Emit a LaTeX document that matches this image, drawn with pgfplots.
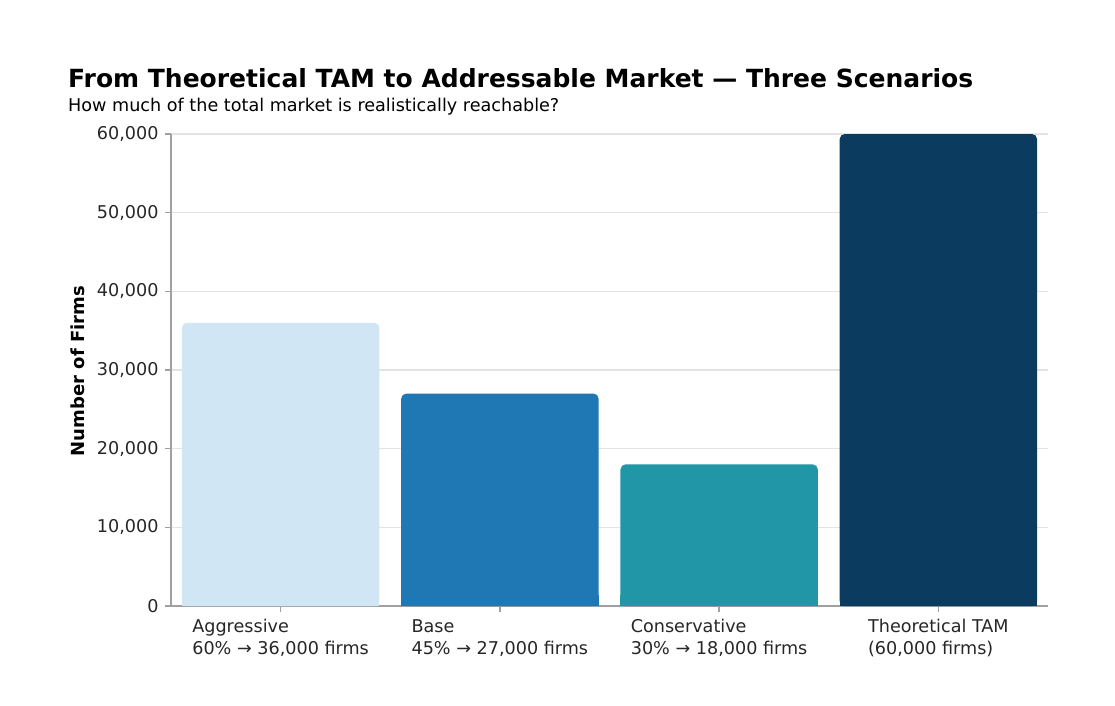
\documentclass[border=0pt]{standalone}
\usepackage{pgfplots}
\usepackage{pgfplotstable}
\pgfplotsset{compat=1.18}
\usepackage{fontspec}
\setmainfont{DejaVu Sans}
\definecolor{cAgg}{HTML}{D0E6F4}
\definecolor{cBase}{HTML}{1F77B4}
\definecolor{cCons}{HTML}{2196A6}
\definecolor{cTam}{HTML}{0B3C5F}
\definecolor{gridc}{HTML}{E3E3E3}
\definecolor{spine}{HTML}{A0A0A0}
\pgfplotsset{layers/barsunder/.define layer set={axis background,axis grid,main,axis ticks,axis lines,axis tick labels,axis descriptions,axis foreground}{}}
\pgfplotstableread{
x v
0 36000
}\tAgg
\pgfplotstableread{
x v
1 27000
}\tBase
\pgfplotstableread{
x v
2 18000
}\tCons
\pgfplotstableread{
x v
3 60000
}\tTam
\begin{document}
\begin{tikzpicture}
\path (0pt,0pt) rectangle (1115pt,705pt);
\node[anchor=base west, font=\fontsize{25}{30}\selectfont\bfseries, inner sep=0] at (68pt,617pt) {From Theoretical TAM to Addressable Market — Three Scenarios};
\node[anchor=base west, font=\fontsize{17.6}{21}\selectfont, inner sep=0] at (68pt,593pt) {How much of the total market is realistically reachable?};
\node[rotate=90, anchor=center, inner sep=0, font=\fontsize{18}{21}\selectfont\bfseries] at (78pt,334pt) {Number of Firms};
\begin{axis}[
  set layers=barsunder,
  at={(171pt,99pt)}, anchor=south west,
  width=877pt, height=472pt, scale only axis,
  xmin=-0.5, xmax=3.5, ymin=0, ymax=60000,
  axis x line*=bottom, axis y line*=left,
  axis line style={spine, line width=1.6pt},
  tick style={spine, line width=1.4pt},
  major tick length=6pt, tick align=outside,
  ytick={0,10000,20000,30000,40000,50000,60000},
  xtick={0,1,2,3},
  xticklabels={{Aggressive\\60\% → 36,000 firms},{Base\\45\% → 27,000 firms},{Conservative\\30\% → 18,000 firms},{Theoretical TAM\\(60,000 firms)}},
  xticklabel style={align=left, anchor=north, font=\fontsize{17.6}{22}\selectfont, text=black!85, yshift=-4pt},
  yticklabel style={font=\fontsize{17.6}{21}\selectfont, text=black!85, xshift=-3pt},
  scaled y ticks=false,
  /pgf/number format/.cd, 1000 sep={,}, assume math mode=true, /pgfplots/.cd,
  ymajorgrids, grid style={gridc, line width=1.3pt},
  ybar, bar width=0.9,
]
\addplot[bar shift=0pt, fill=cAgg, draw=none, rounded corners=5pt] table[x=x,y=v] {\tAgg};
\addplot[bar shift=0pt, fill=cAgg, draw=none] table[x=x,y expr=\thisrow{v}*0.04] {\tAgg};
\addplot[bar shift=0pt, fill=cBase, draw=none, rounded corners=5pt] table[x=x,y=v] {\tBase};
\addplot[bar shift=0pt, fill=cBase, draw=none] table[x=x,y expr=\thisrow{v}*0.05] {\tBase};
\addplot[bar shift=0pt, fill=cCons, draw=none, rounded corners=5pt] table[x=x,y=v] {\tCons};
\addplot[bar shift=0pt, fill=cCons, draw=none] table[x=x,y expr=\thisrow{v}*0.08] {\tCons};
\addplot[bar shift=0pt, fill=cTam, draw=none, rounded corners=5pt] table[x=x,y=v] {\tTam};
\addplot[bar shift=0pt, fill=cTam, draw=none] table[x=x,y expr=\thisrow{v}*0.025] {\tTam};
\end{axis}
\end{tikzpicture}
\end{document}
